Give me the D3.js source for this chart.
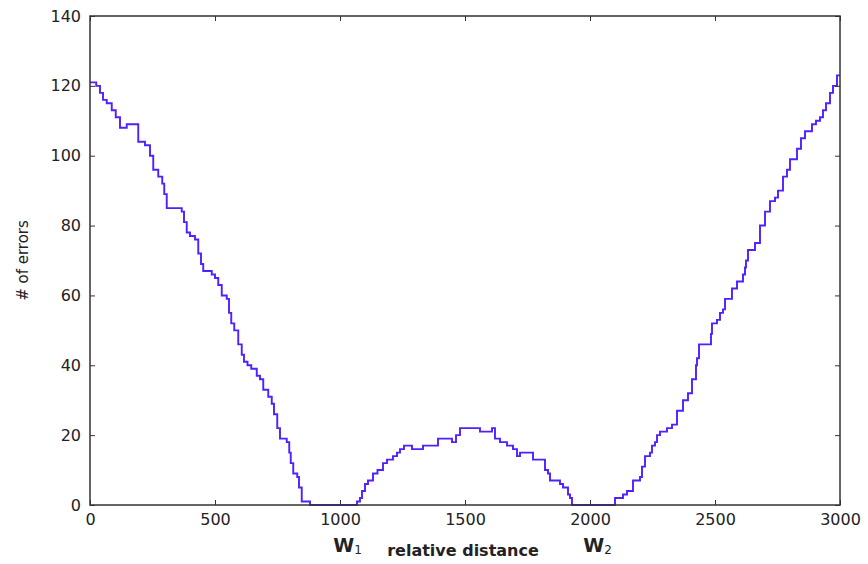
<!DOCTYPE html>
<html>
<head>
<meta charset="utf-8">
<script src="https://cdn.jsdelivr.net/npm/d3@7/dist/d3.min.js"></script>
<style>
  html, body { margin: 0; padding: 0; background: #fff; }
  svg { display: block; }
  text { font-family: "DejaVu Sans", sans-serif; fill: #222; }
</style>
</head>
<body>
<svg id="chart" width="868" height="564"></svg>
<script>
// Data (relative distance, number of errors)
const distance = [0,25,40,52,67,87,103,120,147,193,220,240,253,273,289,297,307,367,376,387,400,420,433,444,453,487,500,513,527,547,556,565,577,593,607,616,630,645,667,680,693,713,727,736,749,760,787,797,803,813,829,836,847,880,
  1068,1080,1088,1100,1112,1132,1150,1172,1188,1212,1228,1240,1256,1288,1332,1392,1448,1464,1480,1560,1608,1620,1640,1668,1692,1708,1720,1772,1820,1832,1840,1880,1892,1912,1920,1928,
  2100,2132,2148,2172,2200,2208,2220,2240,2248,2260,2268,2280,2308,2328,2348,2372,2392,2408,2424,2428,2436,2484,2488,2508,2520,2532,2540,2568,2588,2612,2620,2624,2632,2660,2680,2700,2720,2740,2752,2772,2788,2800,2828,2844,2860,2888,2904,2920,2932,2944,2960,2972,2988,3000];
const errors = [121,120,118,116,115,113,111,108,109,104,103,100,96,94,92,89,85,84,81,78,77,76,72,69,67,66,65,63,60,59,55,52,50,46,43,41,40,39,37,36,33,31,29,26,22,19,18,15,12,9,8,5,1,0,
  1,2,4,6,7,9,10,12,13,14,15,16,17,16,17,19,18,20,22,21,22,19,18,17,16,14,15,13,10,9,7,6,5,3,2,0,
  2,3,4,7,8,11,14,15,17,18,20,21,22,23,27,30,32,36,40,42,46,49,52,53,55,56,59,62,64,66,68,70,73,75,80,84,87,88,90,94,96,99,102,105,107,109,110,111,113,115,118,120,123,123];
const xTicks = [0,500,1000,1500,2000,2500,3000];
const yTicks = [0,20,40,60,80,100,120,140];
const xLabel = "relative distance";
const yLabel = "# of errors";
const markers = [{x: 1030, name: "W", sub: "1"}, {x: 2030, name: "W", sub: "2"}];

const svg = d3.select("#chart");
const mLeft = 90, mRight = 840, mTop = 16, mBottom = 505;

const x = d3.scaleLinear().domain([0, 3000]).range([mLeft, mRight]);
const y = d3.scaleLinear().domain([0, 140]).range([mBottom, mTop]);

const data = distance.map((d, i) => ({x: d, y: errors[i]}));

// line
const line = d3.line().x(d => x(d.x)).y(d => y(d.y)).curve(d3.curveStepAfter);
svg.append("path")
  .datum(data)
  .attr("fill", "none")
  .attr("stroke", "#5020ff")
  .attr("stroke-width", 1.9)
  .attr("d", line);

// axes (ticks inward, on all four sides)
const tickLen = 5;
const axisColor = "#333";
const gB = svg.append("g").attr("transform", `translate(0,${mBottom})`)
  .call(d3.axisBottom(x).tickValues(xTicks).tickSize(-tickLen).tickPadding(8).tickFormat(d3.format("d")));
const gT = svg.append("g").attr("transform", `translate(0,${mTop})`)
  .call(d3.axisTop(x).tickValues(xTicks).tickSize(-tickLen).tickFormat(""));
const gL = svg.append("g").attr("transform", `translate(${mLeft},0)`)
  .call(d3.axisLeft(y).tickValues(yTicks).tickSize(-tickLen).tickPadding(9).tickFormat(d3.format("d")));
const gR = svg.append("g").attr("transform", `translate(${mRight},0)`)
  .call(d3.axisRight(y).tickValues(yTicks).tickSize(-tickLen).tickFormat(""));

[gB, gT, gL, gR].forEach(g => {
  g.select(".domain").remove();
  g.selectAll(".tick line").attr("stroke", axisColor).attr("stroke-width", 1);
  g.selectAll(".tick text").attr("font-size", 16).attr("font-family", "DejaVu Sans, sans-serif").attr("fill", "#222");
});
gB.selectAll(".tick text").attr("dy", "0.75em");

// frame
svg.append("rect")
  .attr("x", mLeft).attr("y", mTop)
  .attr("width", mRight - mLeft).attr("height", mBottom - mTop)
  .attr("fill", "none").attr("stroke", axisColor).attr("stroke-width", 1.5);

// axis labels
svg.append("text")
  .attr("x", (mLeft + mRight) / 2 - 2).attr("y", 556)
  .attr("text-anchor", "middle").attr("font-size", 16).attr("font-weight", "bold")
  .text(xLabel);

svg.append("text")
  .attr("transform", `translate(28,${(mTop + mBottom) / 2}) rotate(-90)`)
  .attr("text-anchor", "middle").attr("font-size", 15)
  .text(yLabel);

// markers W1, W2
markers.forEach(m => {
  const t = svg.append("text")
    .attr("x", x(m.x)).attr("y", 552)
    .attr("text-anchor", "middle").attr("font-size", 19).attr("font-weight", "bold");
  t.append("tspan").text(m.name);
  t.append("tspan").attr("font-size", 12).attr("font-weight", "normal").attr("dy", 2).text(m.sub);
});
</script>
</body>
</html>
